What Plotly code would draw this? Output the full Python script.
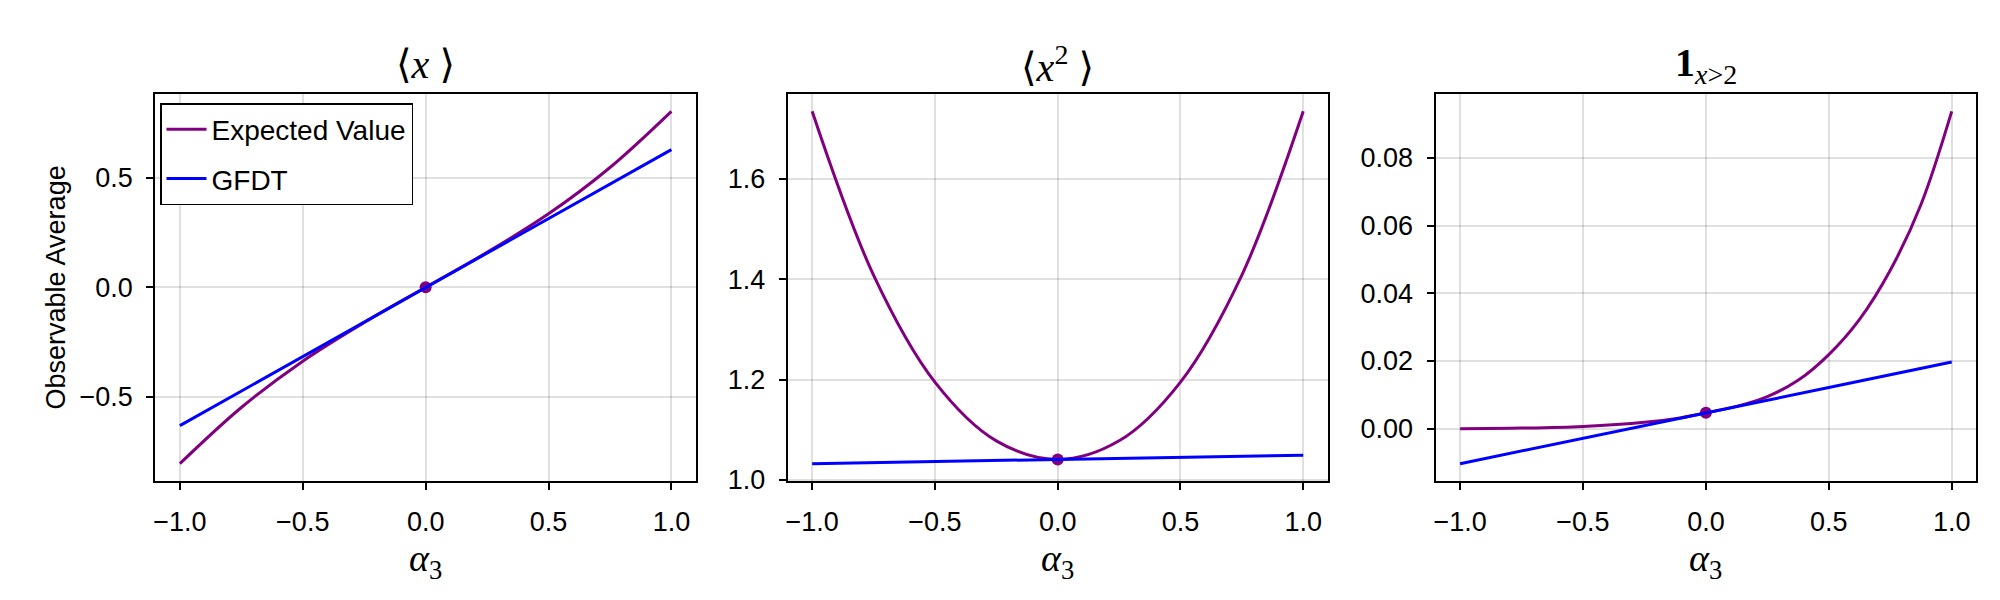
import plotly.graph_objects as go
from plotly.subplots import make_subplots

# ---- data ----
alpha = [-1.0, -0.75, -0.5, -0.25, 0.0, 0.25, 0.5, 0.75, 1.0]

x_expected = [-0.807, -0.550, -0.338, -0.161, 0.0, 0.160, 0.336, 0.548, 0.805]
x_gfdt = [-0.633, -0.475, -0.316, -0.158, 0.0, 0.158, 0.315, 0.473, 0.630]

x2_expected = [1.734, 1.408, 1.195, 1.078, 1.041, 1.078, 1.195, 1.408, 1.734]
x2_gfdt = [1.0325, 1.0346, 1.0368, 1.0389, 1.0410, 1.0431, 1.0452, 1.0474, 1.0495]

alpha_fine = [-1.0, -0.75, -0.5, -0.25, -0.125, 0.0, 0.125, 0.25, 0.375,
              0.5, 0.625, 0.75, 0.875, 1.0]
ind_expected = [0.0000, 0.0002, 0.0007, 0.0019, 0.0030, 0.0047, 0.0066, 0.0095,
                0.0143, 0.0219, 0.0323, 0.0468, 0.0662, 0.0937]
ind_gfdt = [-0.0103, -0.0066, -0.0028, 0.0009, 0.0047, 0.0084, 0.0122, 0.0160, 0.0197]

center_alpha = 0.0
center_values = [0.0, 1.041, 0.0047]

titles = ["⟨<i>x</i> ⟩", "⟨<i>x</i><sup>2</sup> ⟩", "<b>1</b><sub><i>x</i>>2</sub>"]
xlabel = "<i>α</i><sub>3</sub>"
ylabel = "Observable Average"
series_names = ["Expected Value", "GFDT"]

PURPLE = "#800080"
BLUE = "#0000FF"
SANS = "Liberation Sans, Arial, Helvetica, sans-serif"
SERIF = "Liberation Serif, DejaVu Serif, serif"

panels = [
    (alpha, x_expected, alpha, x_gfdt, ".1f", 0.5),
    (alpha, x2_expected, alpha, x2_gfdt, ".1f", 0.2),
    (alpha_fine, ind_expected, alpha, ind_gfdt, ".2f", 0.02),
]

fig = make_subplots(rows=1, cols=3)

xdomains = [(147.3, 688.0), (779.6, 1319.8), (1427.5, 1968.3)]
W, H = 2000, 600
top_px, bot_px = 85.7, 473.3

for i, (ea, ev, ga, gv, fmt, dt) in enumerate(panels):
    col = i + 1
    fig.add_trace(go.Scatter(x=ea, y=ev, mode="lines", name=series_names[0],
                             line=dict(color=PURPLE, width=3, shape="spline", smoothing=1.0),
                             legendgroup="a", showlegend=(i == 0)), row=1, col=col)
    fig.add_trace(go.Scatter(x=[center_alpha], y=[center_values[i]], mode="markers",
                             marker=dict(color=PURPLE, size=12), showlegend=False),
                  row=1, col=col)
    fig.add_trace(go.Scatter(x=ga, y=gv, mode="lines", name=series_names[1],
                             line=dict(color=BLUE, width=3),
                             legendgroup="b", showlegend=(i == 0)), row=1, col=col)
    allv = list(ev) + list(gv)
    lo, hi = min(allv), max(allv)
    pad = 0.05 * (hi - lo)
    axis_common = dict(showline=True, mirror=True, linecolor="black", linewidth=2,
                       ticks="outside", ticklen=7, tickwidth=2, tickcolor="black",
                       showgrid=True, gridcolor="rgba(0,0,0,0.12)", gridwidth=1.5,
                       zeroline=False, tickfont=dict(family=SANS, size=27, color="black"),
                       automargin=False)
    fig.update_xaxes(range=[-1.1, 1.1], dtick=0.5, tick0=0, tickformat=".1f",
                     domain=[xdomains[i][0] / W, xdomains[i][1] / W],
                     ticklabelstandoff=8, **axis_common, row=1, col=col)
    fig.update_yaxes(range=[lo - pad, hi + pad], dtick=dt, tick0=0, tickformat=fmt,
                     domain=[1 - bot_px / H, 1 - top_px / H],
                     ticklabelstandoff=8, **axis_common, row=1, col=col)
    cx = (xdomains[i][0] + xdomains[i][1]) / 2 / W
    fig.add_annotation(x=cx, y=1 - 57 / H, xref="paper", yref="paper", text=titles[i],
                       showarrow=False, xanchor="center", yanchor="middle",
                       font=dict(family=SERIF, size=40, color="black"))
    fig.add_annotation(x=cx, y=1 - 553 / H, xref="paper", yref="paper", text=xlabel,
                       showarrow=False, xanchor="center", yanchor="middle",
                       font=dict(family=SERIF, size=38, color="black"))

fig.add_annotation(x=47 / W, y=1 - 279.5 / H, xref="paper", yref="paper", text=ylabel,
                   textangle=-90, showarrow=False, xanchor="center", yanchor="middle",
                   font=dict(family=SANS, size=27, color="black"))

fig.update_layout(
    width=W, height=H, autosize=False,
    margin=dict(l=0, r=0, t=0, b=0),
    paper_bgcolor="white", plot_bgcolor="white",
    legend=dict(x=152 / W, y=1 - 95 / H, xanchor="left", yanchor="top",
                bgcolor="white", bordercolor="black", borderwidth=1.5,
                font=dict(family=SANS, size=28, color="black"),
                itemwidth=40, tracegroupgap=10),
)

fig.write_html("out.html")
